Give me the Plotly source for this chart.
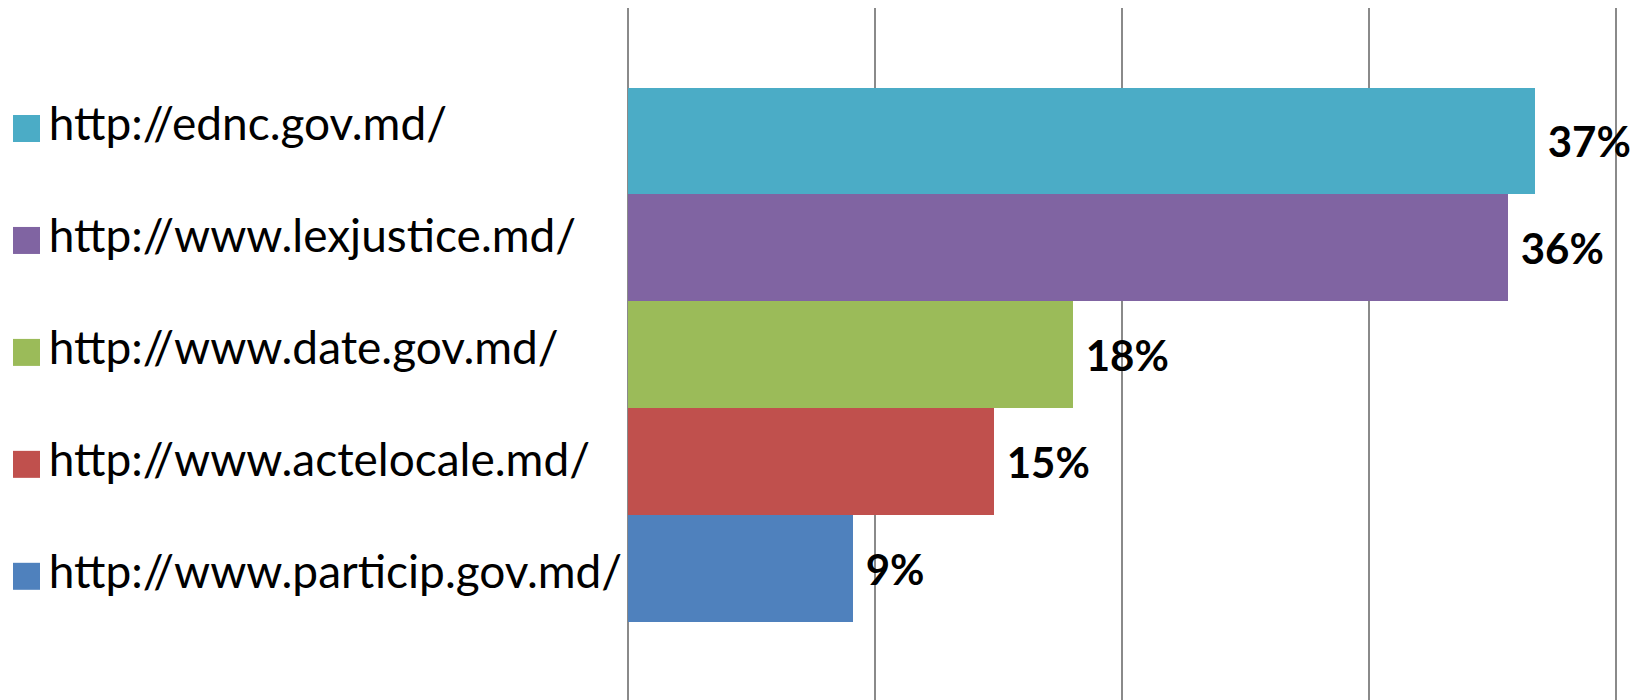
import plotly.graph_objects as go

sites = [
    "http://ednc.gov.md/",
    "http://www.lexjustice.md/",
    "http://www.date.gov.md/",
    "http://www.actelocale.md/",
    "http://www.particip.gov.md/",
]
shares = [0.367, 0.356, 0.180, 0.148, 0.091]
colors = ["#4BACC6", "#8064A2", "#9BBB59", "#C0504D", "#4F81BD"]
legend_x = [0, 0, 0, 0, 0]

W, H = 1648, 700
NB = "\u00a0"
PAD = "<span style='font-size:17px'>" + NB + "</span>"

fig = go.Figure()

fig.add_trace(go.Bar(
    y=sites, x=shares, orientation="h",
    marker=dict(color=colors, line=dict(width=0)),
    texttemplate=NB + "%{x:.0%}",
    textposition="outside",
    textfont=dict(family="Lato", size=42, color="#000000", weight="bold"),
    constraintext="none",
    cliponaxis=False,
    hoverinfo="skip",
    showlegend=False,
    xaxis="x", yaxis="y",
))

# legend drawn as square markers with labels
fig.add_trace(go.Scatter(
    y=sites, x=legend_x, mode="markers+text",
    marker=dict(symbol="square", size=27, color=colors, line=dict(width=0)),
    text=[PAD + s for s in sites],
    textposition="middle right",
    textfont=dict(family="Lato", size=46, color="#000000"),
    cliponaxis=False,
    hoverinfo="skip",
    showlegend=False,
    xaxis="x2", yaxis="y2",
))

grid = "#8a8a8a"
x0_px, x40_px = 627.5, 1616.0
xmax = 0.41
x_end_px = x0_px + (x40_px - x0_px) * xmax / 0.4
fig.update_layout(
    width=W, height=H,
    margin=dict(l=0, r=0, t=0, b=0),
    paper_bgcolor="white", plot_bgcolor="white",
    bargap=0,
    showlegend=False,
    hovermode=False,
    xaxis=dict(
        domain=[x0_px / W, x_end_px / W], range=[0, xmax],
        dtick=0.1, tick0=0, showgrid=True, gridcolor=grid, gridwidth=2,
        zeroline=True, zerolinecolor=grid, zerolinewidth=2,
        showticklabels=False, ticks="", showline=False, fixedrange=True,
    ),
    yaxis=dict(
        domain=[0, 1 - 8 / H], type="category", categoryarray=sites,
        range=[5.232, -1.245], showgrid=False, zeroline=False,
        showticklabels=False, ticks="", showline=False, fixedrange=True,
    ),
    xaxis2=dict(
        domain=[0, 0.37], anchor="y2", range=[-0.0435, 0.9565],
        visible=False, fixedrange=True,
    ),
    yaxis2=dict(
        domain=[0, 1], anchor="x2", type="category", categoryarray=sites,
        range=[5.105, -1.148], visible=False, fixedrange=True,
    ),
)

fig.write_html(
    "out.html",
    config={"displayModeBar": False},
    post_script="document.body.style.margin='0';document.body.style.overflow='hidden';",
)
